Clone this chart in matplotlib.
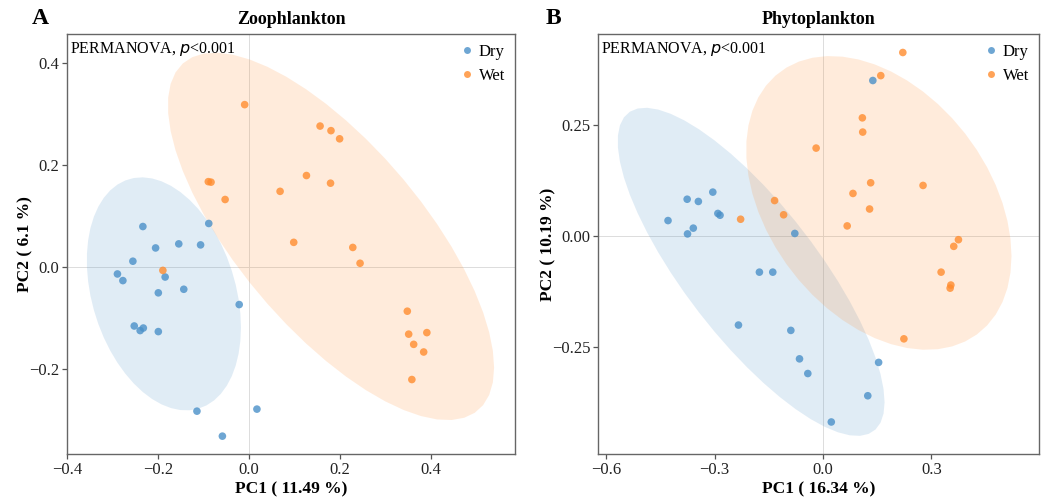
import numpy as np
import matplotlib
matplotlib.use("Agg")
import matplotlib.pyplot as plt
from matplotlib.patches import Polygon
from matplotlib.lines import Line2D

plt.rcParams['font.family'] = ['Liberation Serif', 'DejaVu Serif']
plt.rcParams['mathtext.fontset'] = 'custom'

# ---- Zooplankton PCoA scores ----
zoo_dry_pc1 = [-0.089, -0.234, -0.206, -0.155, -0.107, -0.256, -0.290, -0.278, -0.185,
               -0.200, -0.144, -0.022, -0.253, -0.240, -0.233, -0.200, -0.115, 0.017, -0.059]
zoo_dry_pc2 = [0.086, 0.080, 0.038, 0.046, 0.044, 0.012, -0.013, -0.026, -0.019,
               -0.050, -0.043, -0.073, -0.115, -0.124, -0.119, -0.126, -0.282, -0.278, -0.331]
zoo_wet_pc1 = [-0.010, 0.156, 0.180, 0.199, -0.090, -0.084, 0.126, 0.179, 0.068, -0.053,
               0.098, 0.228, -0.190, 0.244, 0.348, 0.351, 0.391, 0.362, 0.384, 0.358]
zoo_wet_pc2 = [0.319, 0.277, 0.268, 0.252, 0.168, 0.167, 0.180, 0.165, 0.149, 0.133,
               0.049, 0.039, -0.006, 0.008, -0.086, -0.131, -0.128, -0.151, -0.166, -0.220]

# ---- Phytoplankton PCoA scores ----
phy_dry_pc1 = [0.138, -0.305, -0.376, -0.345, -0.291, -0.285, -0.429, -0.359, -0.375, -0.078,
               -0.176, -0.139, -0.234, -0.089, -0.065, -0.042, 0.154, 0.124, 0.023]
phy_dry_pc2 = [0.349, 0.098, 0.082, 0.077, 0.050, 0.046, 0.034, 0.017, 0.004, 0.005,
               -0.082, -0.082, -0.201, -0.213, -0.277, -0.310, -0.285, -0.360, -0.419]
phy_wet_pc1 = [0.221, 0.160, 0.109, 0.110, -0.019, 0.132, 0.277, 0.083, 0.129, 0.067,
               -0.134, -0.109, -0.228, 0.375, 0.362, 0.327, 0.354, 0.352, 0.224]
phy_wet_pc2 = [0.412, 0.360, 0.265, 0.233, 0.197, 0.119, 0.113, 0.095, 0.060, 0.022,
               0.079, 0.047, 0.037, -0.009, -0.024, -0.082, -0.111, -0.118, -0.232]

groups = ["Dry", "Wet"]
colors = {"Dry": "#4A90C8", "Wet": "#FF8C2E"}

panels = [
    dict(tag="A", title="Zoophlankton", xlabel="PC1 ( 11.49 %)", ylabel="PC2 ( 6.1 %)",
         data={"Dry": (zoo_dry_pc1, zoo_dry_pc2), "Wet": (zoo_wet_pc1, zoo_wet_pc2)},
         xlim=(-0.401, 0.585), ylim=(-0.366, 0.4575),
         xticks=[-0.4, -0.2, 0.0, 0.2, 0.4], xfmt="{:.1f}",
         yticks=[-0.2, 0.0, 0.2, 0.4], yfmt="{:.1f}"),
    dict(tag="B", title="Phytoplankton", xlabel="PC1 ( 16.34 %)", ylabel="PC2 ( 10.19 %)",
         data={"Dry": (phy_dry_pc1, phy_dry_pc2), "Wet": (phy_wet_pc1, phy_wet_pc2)},
         xlim=(-0.622, 0.598), ylim=(-0.491, 0.4536),
         xticks=[-0.6, -0.3, 0.0, 0.3], xfmt="{:.1f}",
         yticks=[-0.25, 0.0, 0.25], yfmt="{:.2f}"),
]


def cov_trob(x, nu=5, maxit=25, tol=0.01):
    """Robust multivariate-t location/scatter estimate (as in MASS::cov.trob)."""
    n, p = x.shape
    wt = np.ones(n)
    loc = x.mean(axis=0)
    w = np.sqrt(wt)
    X = x - loc
    for _ in range(maxit):
        w0 = w
        X = x - loc
        _, d, vt = np.linalg.svd(np.sqrt(w / w.sum())[:, None] * X, full_matrices=False)
        wX = X @ vt.T @ np.diag(1.0 / d)
        Q = (wX ** 2).sum(axis=1)
        w = (wt * (nu + p)) / (nu + Q)
        loc = (w[:, None] * x).sum(axis=0) / w.sum()
        if np.all(np.abs(w - w0) < tol):
            break
    cov = (np.sqrt(w)[:, None] * X).T @ (np.sqrt(w)[:, None] * X) / wt.sum()
    return loc, cov


def t_ellipse(xs, ys, level=0.90, segments=51):
    pts = np.column_stack([xs, ys]).astype(float)
    center, shape = cov_trob(pts)
    dfd = len(pts) - 1
    # F(2, dfd) quantile in closed form
    fq = dfd / 2.0 * ((1 - level) ** (-2.0 / dfd) - 1)
    radius = np.sqrt(2 * fq)
    ang = np.linspace(0, 2 * np.pi, segments + 1)
    circle = np.column_stack([np.cos(ang), np.sin(ang)])
    upper = np.linalg.cholesky(shape).T
    return center + radius * circle @ upper


fig = plt.figure(figsize=(10.52, 5.0), dpi=100)
axes_rects = [[67 / 1052, 46 / 500, 448 / 1052, 420 / 500],
              [598.3 / 1052, 46 / 500, 440.7 / 1052, 420 / 500]]
tag_x = [40 / 1052, 553 / 1052]

for rect, tx, pan in zip(axes_rects, tag_x, panels):
    ax = fig.add_axes(rect)
    ax.set_xlim(*pan["xlim"])
    ax.set_ylim(*pan["ylim"])
    ax.axhline(0, color="#DCDCDC", lw=0.7, zorder=0)
    ax.axvline(0, color="#DCDCDC", lw=0.7, zorder=0)

    for g in groups:
        xs, ys = pan["data"][g]
        ell = t_ellipse(xs, ys)
        ax.add_patch(Polygon(ell, closed=True, facecolor=colors[g], alpha=0.17,
                             edgecolor="none", zorder=1))
    for g in groups:
        xs, ys = pan["data"][g]
        ax.scatter(xs, ys, s=30, color=colors[g], alpha=0.8, edgecolors="none", zorder=3)

    ax.set_xticks(pan["xticks"])
    ax.set_xticklabels([pan["xfmt"].format(v).replace("-", "\u2212") for v in pan["xticks"]])
    ax.set_yticks(pan["yticks"])
    ax.set_yticklabels([pan["yfmt"].format(v).replace("-", "\u2212") for v in pan["yticks"]])
    ax.tick_params(direction="out", length=3.5, width=0.9, color="#555555",
                   labelsize=12, labelcolor="#222222", pad=2)
    for sp in ax.spines.values():
        sp.set_color("#666666")
        sp.set_linewidth(1.0)

    ax.set_xlabel(pan["xlabel"], fontsize=12.5, fontweight="bold", labelpad=3)
    ax.set_ylabel(pan["ylabel"], fontsize=12.5, fontweight="bold", labelpad=-3)
    ax.set_title(pan["title"], fontsize=13, fontweight="bold", pad=7)

    ax.text(0.006, 0.985, "PERMANOVA, $\\it{p}$<0.001", transform=ax.transAxes,
            ha="left", va="top", fontsize=11.5)

    handles = [Line2D([], [], marker="o", linestyle="none", markersize=5,
                      markerfacecolor=colors[g], markeredgecolor="none", alpha=0.8)
               for g in groups]
    ax.legend(handles, groups, loc="upper right", frameon=False, fontsize=12,
              handlelength=0.6, handletextpad=0.4, labelspacing=0.45,
              borderaxespad=0.3, borderpad=0.3)

    fig.text(tx, 0.962, pan["tag"], fontsize=17, fontweight="bold", ha="center", va="center")

fig.savefig("out.png", dpi=100)
